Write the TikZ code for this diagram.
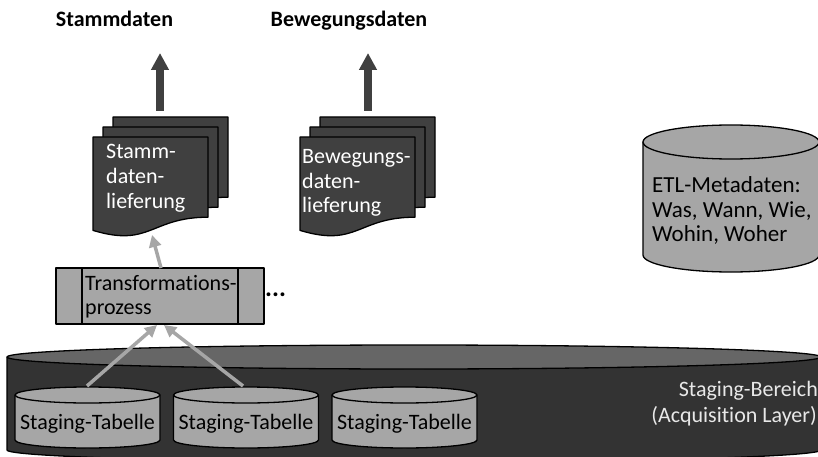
\documentclass[tikz,border=0pt]{standalone}
\usepackage{fontspec}
\setmainfont{Carlito}[RawFeature={-liga}]
\usetikzlibrary{arrows.meta}
\definecolor{dk}{HTML}{404040}
\definecolor{bodydk}{HTML}{333333}
\definecolor{topdk}{HTML}{666666}
\definecolor{mid}{HTML}{A6A6A6}
\definecolor{lt}{HTML}{E8E8E8}
\newcommand\drawcyl[6]{%
  \draw[#6] (#1-#4,#2) -- (#1-#4,#3) arc[start angle=180,end angle=0,x radius=#4,y radius=#5] -- (#1+#4,#2) -- cycle;
  \draw[#6] (#1,#2) ellipse[x radius=#4, y radius=#5];
}
\tikzset{
  outl/.style={draw=black, line width=1.3pt, line join=round},
  docshape/.style={outl, fill=dk},
  cylshape/.style={outl, fill=mid},
  docpage/.pic={\draw[docshape] (0,0) -- (115,0) -- (115,80.2) .. controls (57.5,80.2) and (57.5,110.7) .. (0,93.4) -- cycle;},
  txt/.style={font=\fontsize{22}{26}\selectfont, inner sep=0pt},
  wtxt/.style={txt, text=white, anchor=base west},
  btxt/.style={txt, text=black, anchor=base west},
  ttl/.style={font=\fontsize{22}{26}\selectfont\bfseries, inner sep=0pt, anchor=base},
  bigarrow/.style={draw=dk, line width=8pt, -{Triangle[width=17pt,length=17pt]}},
  grayarrow/.style={draw=mid, line width=3.5pt, -{Triangle[width=12pt,length=12pt]}}
}
\begin{document}
\begin{tikzpicture}[x=1pt,y=-1pt]
\useasboundingbox (0,0) rectangle (818,457);
\clip (0,0) rectangle (818,457);
\fill[white] (0,0) rectangle (818,457);
% staging area cylinder
\draw[outl, fill=bodydk] (7,357) -- (7,450) arc[start angle=180,end angle=0,x radius=407,y radius=12] -- (821,357) -- cycle;
\draw[outl, fill=topdk] (414,357) ellipse[x radius=407, y radius=12];
\node[txt, text=lt, anchor=base east] (sb1) at (818,396) {Staging-Bereich};
\node[txt, text=lt, anchor=base east] (sb2) at (817,422) {(Acquisition Layer)};
% staging tables
\drawcyl{87.5}{395}{440}{72.5}{8}{cylshape}
\drawcyl{246}{395}{440}{72.5}{8}{cylshape}
\drawcyl{404.5}{395}{440}{72.5}{8}{cylshape}
\node[txt, anchor=base] (st1) at (87.5,429) {Staging-Tabelle};
\node[txt, anchor=base] (st2) at (246,429) {Staging-Tabelle};
\node[txt, anchor=base] (st3) at (404.5,429) {Staging-Tabelle};
\coordinate (st1top) at (87,386);
\coordinate (st2top) at (243,386);
% ETL metadata cylinder
\drawcyl{731}{142}{255}{88}{17}{cylshape}
\node[btxt, font=\fontsize{23}{26}\selectfont] (etl1) at (652,192) {ETL-Metadaten:};
\node[btxt, font=\fontsize{23}{26}\selectfont] (etl2) at (652,217) {Was, Wann, Wie,};
\node[btxt, font=\fontsize{23}{26}\selectfont] (etl3) at (652,241) {Wohin, Woher};
% transformation process
\draw[outl, fill=mid] (56,268) rectangle (264,324);
\draw[outl] (82,268) -- (82,324) (238,268) -- (238,324);
\node[btxt] (tr1) at (85,290) {Transformations-};
\node[btxt] (tr2) at (85,314) {prozess};
\node[font=\fontsize{26}{26}\selectfont\bfseries, inner sep=0pt, anchor=base west] (dots) at (265,296) {...};
\coordinate (trtop) at (161,268);
\coordinate (trb1) at (157,325);
\coordinate (trb2) at (164,325);
% documents
\pic at (113,117) {docpage};
\pic at (103,127) {docpage};
\pic at (93,137) {docpage};
\pic at (320,117) {docpage};
\pic at (310,127) {docpage};
\pic at (300,137) {docpage};
\node[wtxt] (sd1) at (106,158) {Stamm-};
\node[wtxt] (sd2) at (106,183) {daten-};
\node[wtxt] (sd3) at (106,208) {lieferung};
\node[wtxt] (bd1) at (302,164) {Bewegungs-};
\node[wtxt] (bd2) at (302,188) {daten-};
\node[wtxt] (bd3) at (302,212) {lieferung};
\coordinate (sdbot) at (152,235);
% titles and output arrows
\node[ttl] (stitle) at (114.5,27) {Stammdaten};
\node[ttl] (btitle) at (349,27) {Bewegungsdaten};
\coordinate (sa0) at (160,111);
\coordinate (sa1) at (160,53);
\coordinate (ba0) at (368,111);
\coordinate (ba1) at (368,53);
\draw[bigarrow] (sa0) -- (sa1);
\draw[bigarrow] (ba0) -- (ba1);
% gray flow arrows
\draw[grayarrow] (trtop) -- (sdbot);
\draw[grayarrow] (st1top) -- (trb1);
\draw[grayarrow] (st2top) -- (trb2);
\end{tikzpicture}
\end{document}
